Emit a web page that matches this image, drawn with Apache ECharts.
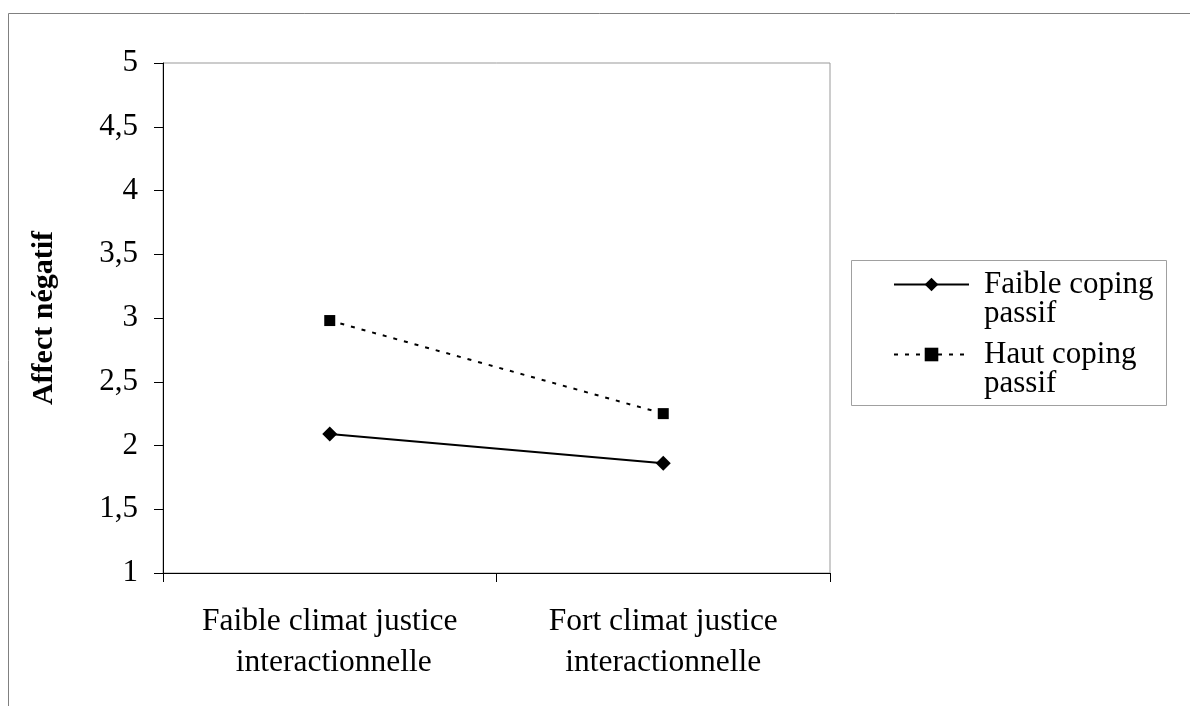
<!DOCTYPE html>
<html>
<head>
<meta charset="utf-8">
<title>Affect négatif</title>
<script src="https://cdn.jsdelivr.net/npm/echarts@6/dist/echarts.min.js"></script>
<style>
  html, body { margin: 0; padding: 0; background: #fff; }
  #chart { width: 1190px; height: 706px; }
</style>
</head>
<body>
<div id="chart"></div>
<script>
// categories on the x axis
var categories = ['Faible climat justice\n interactionnelle', 'Fort climat justice\ninteractionnelle'];
// series values
var faibleCoping = [2.09, 1.86];
var hautCoping = [2.98, 2.25];
var seriesNames = ['Faible coping\npassif', 'Haut coping\npassif'];
// y axis range
var yMin = 1, yMax = 5, yStep = 0.5;

var FONT = '"Liberation Serif", "Times New Roman", serif';

var myChart = echarts.init(document.getElementById('chart'));

var option = {
  backgroundColor: '#fff',
  animation: false,
  textStyle: { fontFamily: FONT, color: '#000' },
  graphic: [
    // cadre extérieur
    { type: 'rect', shape: { x: 8.5, y: 13.5, width: 1200, height: 720 },
      style: { fill: 'none', stroke: '#808080', lineWidth: 1 }, silent: true },
    // cadre de la légende
    { type: 'rect', shape: { x: 851.5, y: 260.5, width: 315, height: 145 },
      style: { fill: 'none', stroke: '#a0a0a0', lineWidth: 1 }, silent: true }
  ],
  grid: {
    left: 163, right: 360, top: 63, bottom: 133,
    show: true, borderColor: '#999', borderWidth: 1, backgroundColor: '#fff'
  },
  legend: {
    orient: 'vertical',
    left: 893, top: 240,
    padding: 0,
    itemGap: -19,
    itemWidth: 75,
    itemHeight: 17,
    data: seriesNames,
    // ligne vide en tête : l'icône s'aligne sur la première ligne du texte
    formatter: function (n) { return '\n' + n; },
    textStyle: {
      fontFamily: FONT, fontSize: 31, color: '#000',
      lineHeight: 29, padding: [0, 0, 0, 10]
    }
  },
  xAxis: {
    type: 'category',
    data: categories,
    boundaryGap: true,
    axisLine: { lineStyle: { color: '#000', width: 1 } },
    axisTick: { show: true, length: 9, lineStyle: { color: '#000' } },
    axisLabel: {
      fontFamily: FONT, fontSize: 31.5, color: '#000',
      lineHeight: 41, margin: 28
    },
    splitLine: { show: false }
  },
  yAxis: {
    type: 'value',
    min: yMin, max: yMax, interval: yStep,
    name: 'Affect négatif',
    nameLocation: 'middle',
    nameGap: 104,
    nameTextStyle: { fontFamily: FONT, fontSize: 30, fontWeight: 'bold', color: '#000' },
    axisLine: { show: true, lineStyle: { color: '#000', width: 1 } },
    axisTick: { show: true, length: 9, lineStyle: { color: '#000' } },
    axisLabel: {
      fontFamily: FONT, fontSize: 31, color: '#000', margin: 25,
      formatter: function (v) { return String(v).replace('.', ','); }
    },
    splitLine: { show: false }
  },
  series: [
    {
      name: seriesNames[0],
      type: 'line',
      data: faibleCoping,
      symbol: 'diamond',
      symbolSize: 15,
      itemStyle: { color: '#000' },
      lineStyle: { color: '#000', width: 2, type: 'solid' }
    },
    {
      name: seriesNames[1],
      type: 'line',
      data: hautCoping,
      symbol: 'rect',
      symbolSize: 11,
      itemStyle: { color: '#000' },
      lineStyle: { color: '#000', width: 2, type: [4, 7] }
    }
  ]
};

myChart.setOption(option);
</script>
</body>
</html>
